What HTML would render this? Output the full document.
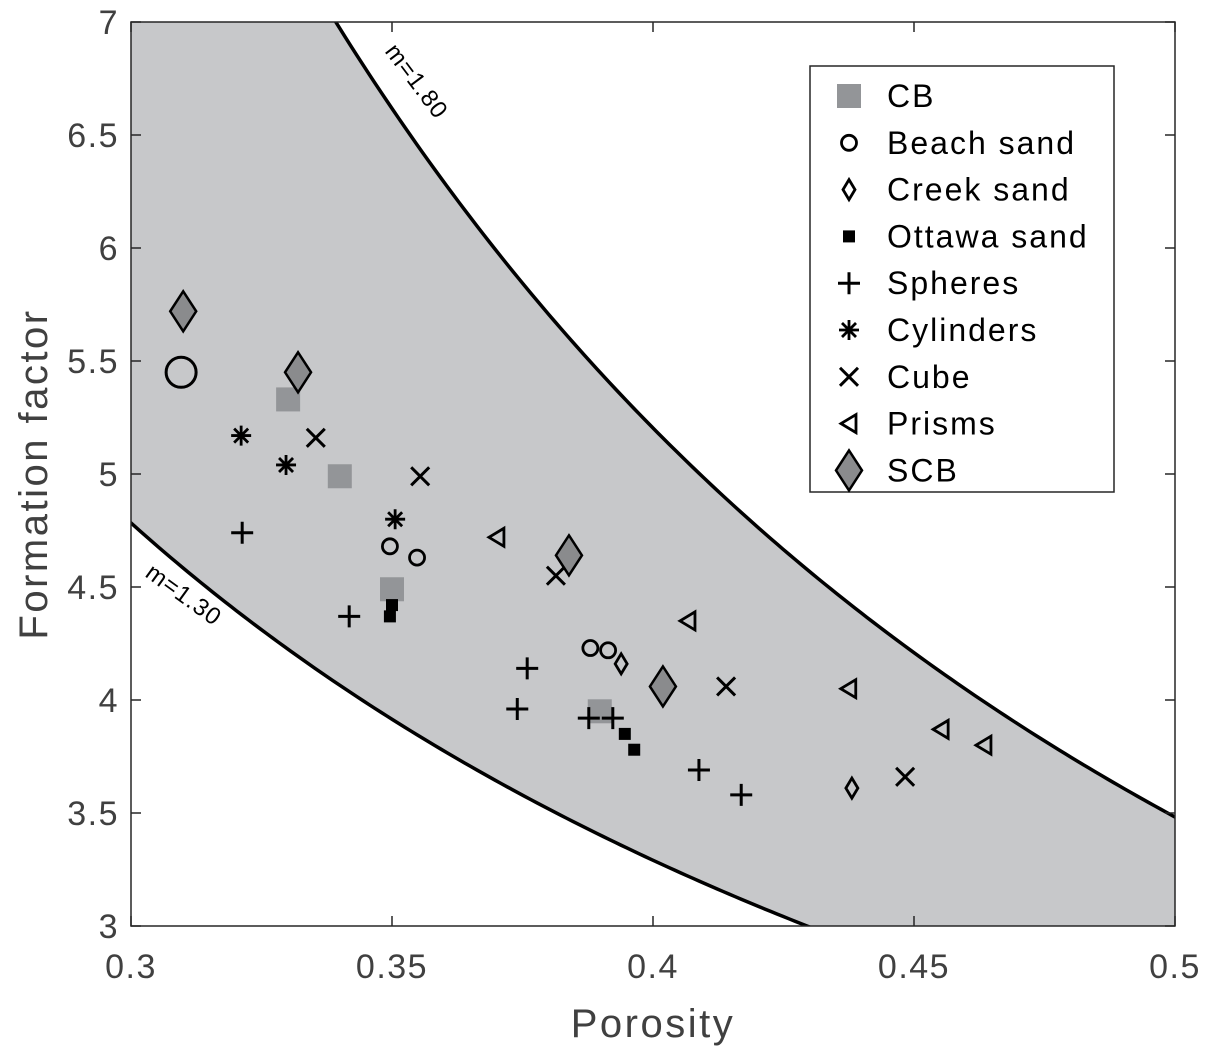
<!DOCTYPE html>
<html><head><meta charset="utf-8"><style>
body{margin:0;background:#fff;}
svg{display:block;font-family:"Liberation Sans",sans-serif;}
</style></head><body>
<svg id="chart" width="1214" height="1059"></svg>
<script>
const xTicks=[0.3,0.35,0.4,0.45,0.5];
const xTickLabels=["0.3","0.35","0.4","0.45","0.5"];
const yTicks=[3,3.5,4,4.5,5,5.5,6,6.5,7];
const yTickLabels=["3","3.5","4","4.5","5","5.5","6","6.5","7"];
const mValues=[1.3,1.8];
const cbX=[0.3301,0.340,0.350,0.3898];
const cbY=[5.33,4.99,4.49,3.95];
const beachX=[0.3496,0.3548,0.388,0.3914];
const beachY=[4.68,4.63,4.23,4.22];
const bigCircleX=[0.3096];
const bigCircleY=[5.45];
const creekX=[0.3939,0.4381];
const creekY=[4.16,3.61];
const ottawaX=[0.3496,0.350,0.3946,0.3964];
const ottawaY=[4.37,4.42,3.85,3.78];
const spheresX=[0.3213,0.3418,0.3759,0.374,0.3877,0.3923,0.4088,0.4169];
const spheresY=[4.74,4.37,4.14,3.96,3.92,3.92,3.69,3.58];
const cylX=[0.3211,0.3297,0.3506];
const cylY=[5.17,5.04,4.80];
const cubeX=[0.3354,0.3554,0.3814,0.414,0.4483];
const cubeY=[5.16,4.99,4.55,4.06,3.66];
const prismX=[0.3701,0.4067,0.4375,0.4552,0.4634];
const prismY=[4.72,4.35,4.05,3.87,3.80];
const scbX=[0.310,0.332,0.3839,0.4019];
const scbY=[5.72,5.45,4.64,4.06];

const L=131,R=1175,T=22,B=926;
const sx=v=>L+(v-0.3)/0.2*(R-L);
const sy=v=>B-(v-3)/4*(B-T);
const svg=document.getElementById('chart');
const NS="http://www.w3.org/2000/svg";
function mk(tag,attrs,parent){const e=document.createElementNS(NS,tag);for(const k in attrs)e.setAttribute(k,attrs[k]);(parent||svg).appendChild(e);return e;}
const defs=mk('defs',{});
const cp=mk('clipPath',{id:'clip'},defs);mk('rect',{x:L,y:T,width:R-L,height:B-T},cp);
const plot=mk('g',{'clip-path':'url(#clip)'});


function curvePts(m){const p=[];for(let i=0;i<=200;i++){const x=0.28+0.23*i/200;p.push([sx(x),sy(Math.pow(x,-m))]);}return p;}
const lo=curvePts(mValues[0]),hi=curvePts(mValues[1]);
let d='M'+hi.map(p=>p.join(',')).join('L')+'L'+lo.slice().reverse().map(p=>p.join(',')).join('L')+'Z';
const band=mk('path',{d:d,fill:'#c7c8ca'},plot);


[lo,hi].forEach((pts,i)=>{const c=mk('path',{d:'M'+pts.map(p=>p.join(',')).join('L'),fill:'none',stroke:'#000','stroke-width':3.5},plot);

});
function marker(type,x,y,g){const X=sx(x),Y=sy(y);let e;
 if(type==='sq'){e=mk('rect',{x:X-12,y:Y-12,width:24,height:24,fill:'#939598'},g);}
 else if(type==='sqs'){e=mk('rect',{x:X-6,y:Y-6,width:12,height:12,fill:'#000'},g);}
 else if(type==='c'){e=mk('circle',{cx:X,cy:Y,r:7.5,fill:'none',stroke:'#000','stroke-width':2.8},g);}
 else if(type==='C'){e=mk('circle',{cx:X,cy:Y,r:15,fill:'none',stroke:'#000','stroke-width':3},g);}
 else if(type==='d'){e=mk('path',{d:`M${X},${Y-10}L${X+6},${Y}L${X},${Y+10}L${X-6},${Y}Z`,fill:'none',stroke:'#000','stroke-width':2.8},g);}
 else if(type==='D'){e=mk('path',{d:`M${X},${Y-20}L${X+13},${Y}L${X},${Y+20}L${X-13},${Y}Z`,fill:'#8a8b8d',stroke:'#000','stroke-width':2.5},g);}
 else if(type==='p'){e=mk('path',{d:`M${X-11},${Y}H${X+11}M${X},${Y-11}V${Y+11}`,stroke:'#000','stroke-width':3},g);}
 else if(type==='x'){e=mk('path',{d:`M${X-9},${Y-9}L${X+9},${Y+9}M${X+9},${Y-9}L${X-9},${Y+9}`,stroke:'#000','stroke-width':3},g);}
 else if(type==='s'){e=mk('path',{d:`M${X-10},${Y}H${X+10}M${X},${Y-10}V${Y+10}M${X-7},${Y-7}L${X+7},${Y+7}M${X+7},${Y-7}L${X-7},${Y+7}`,stroke:'#000','stroke-width':2.8},g);}
 else if(type==='t'){e=mk('path',{d:`M${X-8},${Y}L${X+7},${Y-9}L${X+7},${Y+9}Z`,fill:'none',stroke:'#000','stroke-width':2.8},g);}
 return e;}
const series=[['cb','sq',cbX,cbY],['beach-sand','c',beachX,beachY],['beach-sand-large','C',bigCircleX,bigCircleY],['creek-sand','d',creekX,creekY],['ottawa-sand','sqs',ottawaX,ottawaY],['spheres','p',spheresX,spheresY],['cylinders','s',cylX,cylY],['cube','x',cubeX,cubeY],['prisms','t',prismX,prismY],['scb','D',scbX,scbY]];
series.forEach(s=>{const g=mk('g',{},plot);
 
 
 s[2].forEach((x,i)=>{const e=marker(s[1],x,s[3][i],g);
  
  });});
const l1=mk('text',{x:0,y:0,'font-size':24,'letter-spacing':1,transform:`translate(${sx(0.3485)},${sy(6.87)}) rotate(53)`});l1.textContent='m=1.80';


const l2=mk('text',{x:0,y:0,'font-size':24,'letter-spacing':1,transform:`translate(${sx(0.3025)},${sy(4.55)}) rotate(36)`});l2.textContent='m=1.30';


const fr=mk('rect',{x:L,y:T,width:R-L,height:B-T,fill:'none',stroke:'#262626','stroke-width':1.5});


xTicks.forEach((v,i)=>{mk('line',{x1:sx(v),x2:sx(v),y1:B,y2:B-10,stroke:'#262626','stroke-width':1.5});mk('line',{x1:sx(v),x2:sx(v),y1:T,y2:T+10,stroke:'#262626','stroke-width':1.5});
 const t=mk('text',{x:sx(v),y:B+52,'font-size':34,'letter-spacing':1.5,fill:'#404040','text-anchor':'middle'});t.textContent=xTickLabels[i];
 
 });
yTicks.forEach((v,i)=>{mk('line',{x1:L,x2:L+10,y1:sy(v),y2:sy(v),stroke:'#262626','stroke-width':1.5});mk('line',{x1:R,x2:R-10,y1:sy(v),y2:sy(v),stroke:'#262626','stroke-width':1.5});
 const t=mk('text',{x:L-12,y:sy(v)+12,'font-size':34,'letter-spacing':1.5,fill:'#404040','text-anchor':'end'});t.textContent=yTickLabels[i];
 
 });
const xt=mk('text',{x:(L+R)/2,y:1037,'font-size':40,'letter-spacing':2.5,fill:'#404040','text-anchor':'middle'});xt.textContent='Porosity';


const yt=mk('text',{x:0,y:0,'font-size':40,'letter-spacing':2.5,fill:'#404040','text-anchor':'middle',transform:`translate(47,${(T+B)/2}) rotate(-90)`});yt.textContent='Formation factor';


const lg=mk('g',{});


mk('rect',{x:810,y:66,width:304,height:426,fill:'#fff',stroke:'#262626','stroke-width':1.5},lg);
const legNames=['CB','Beach sand','Creek sand','Ottawa sand','Spheres','Cylinders','Cube','Prisms','SCB'];
const legTypes=['sq','c','d','sqs','p','s','x','t','D'];
legNames.forEach((n,i)=>{const Y=96+i*46.8;const e=mk('g',{},lg);
 
 
 const X0=849,vx=0.3+(X0-L)/(R-L)*0.2,vy=3+(B-Y)/(B-T)*4;
 marker(legTypes[i],vx,vy,e);
 const t=mk('text',{x:887,y:Y+11,'font-size':32,'letter-spacing':2,fill:'#000'},e);t.textContent=n;});
</script>
</body></html>
